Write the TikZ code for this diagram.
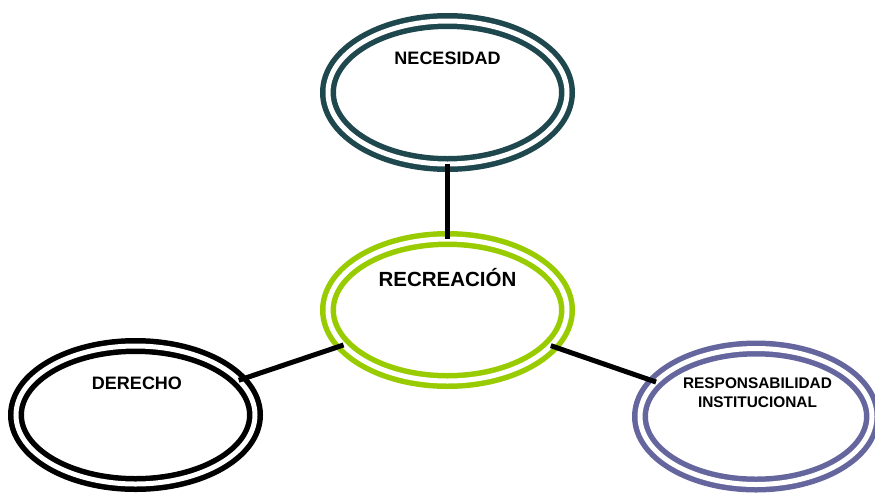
\documentclass[tikz,border=0pt]{standalone}
\usepackage{fontspec}
\setmainfont{Liberation Sans}
\usetikzlibrary{shapes.geometric}
\definecolor{necteal}{RGB}{31,72,78}
\definecolor{recgreen}{RGB}{153,204,0}
\definecolor{resplila}{RGB}{102,102,158}
\tikzstyle{bubble}=[ellipse, double=white, double distance=5pt, line width=5.5pt,
  inner sep=0pt, outer sep=0pt, minimum width=239pt, minimum height=143pt]
\tikzstyle{tag}=[font=\bfseries\fontsize{18}{21}\selectfont, align=center, inner sep=0pt]
\tikzstyle{link}=[line width=5pt, draw=black]

\begin{document}
\begin{tikzpicture}[x=1pt, y=-1pt]
  \useasboundingbox (0,0) rectangle (875,493);

  % los cuatro ovalos
  \node[bubble, draw=necteal] (nec) at (447.5,92.5) {};
  \node[bubble, draw=recgreen, minimum height=142pt] (rec) at (447.5,310) {};
  \node[bubble, draw=black, minimum height=138pt] (der) at (135.5,415) {};
  \node[bubble, draw=resplila, minimum width=232pt, minimum height=136pt] (resp) at (756,416.5) {};

  \node[tag] (necl) at ([yshift=34.5pt]nec.center) {NECESIDAD};
  \node[tag, font=\bfseries\fontsize{20.5}{24}\selectfont] (recl) at ([yshift=32pt]rec.center) {RECREACIÓN};
  \node[tag] (derl) at ([xshift=1.5pt, yshift=32pt]der.center) {DERECHO};
  \node[tag, font=\bfseries\fontsize{15.4}{19}\selectfont] (respl) at ([xshift=1.5pt, yshift=24pt]resp.center)
    {RESPONSABILIDAD\\INSTITUCIONAL};

  % lineas
  \draw[link] (nec) -- (rec);
  \draw[link] (rec) -- (der);
  \draw[link] (rec) -- (resp);
\end{tikzpicture}
\end{document}
